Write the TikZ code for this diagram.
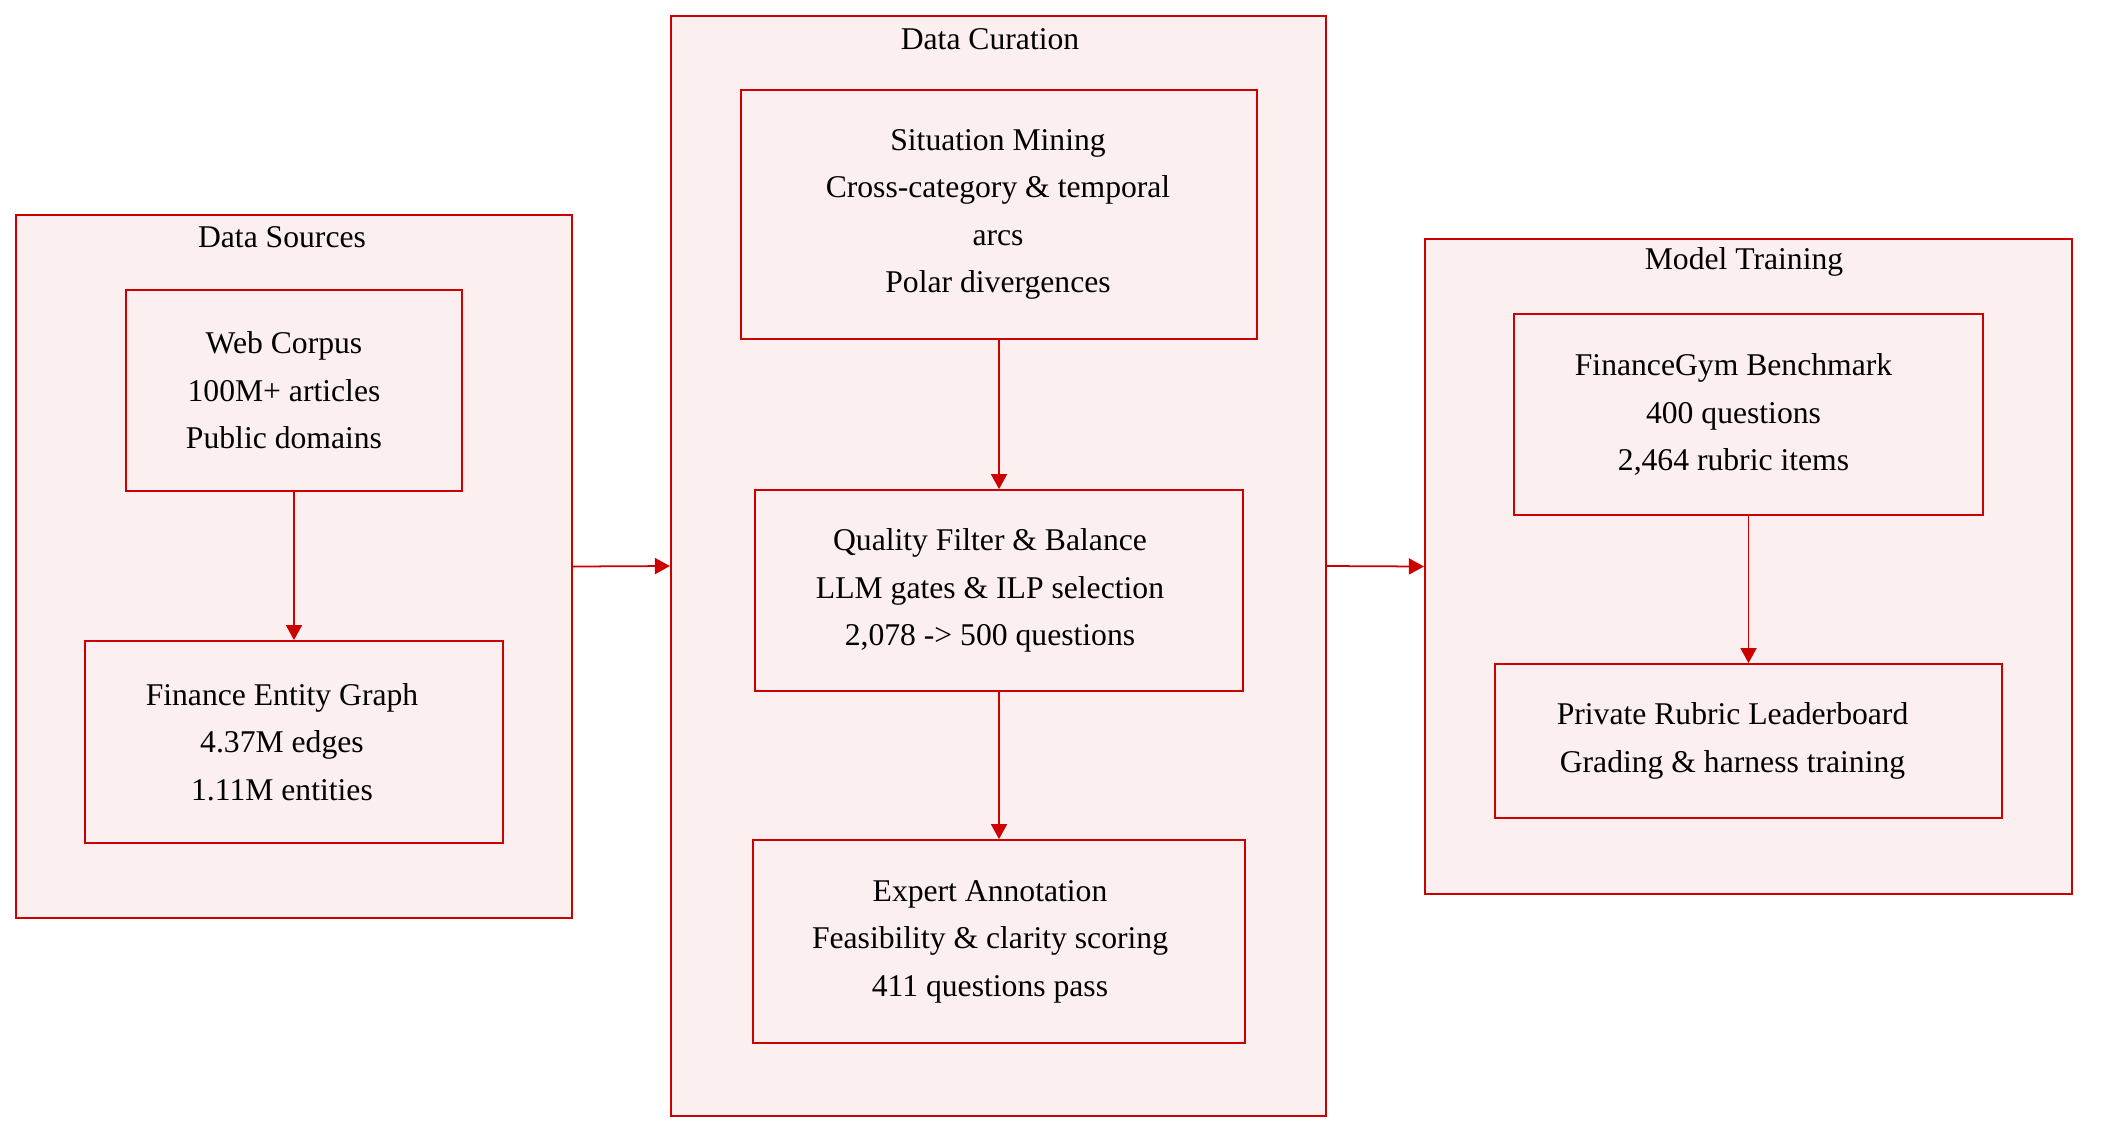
\documentclass[tikz,border=0pt]{standalone}
\usepackage{fontspec}
\setmainfont{Liberation Serif}
\usetikzlibrary{arrows.meta}
\definecolor{boxred}{RGB}{204,0,0}
\definecolor{boxpink}{RGB}{252,239,239}
\begin{document}
\begin{tikzpicture}[x=0.01cm, y=-0.01cm, >={Triangle[length=0.15cm,width=0.16cm]}]
\tikzstyle{every node}=[font=\fontsize{9}{13.5}\selectfont, align=center]
\tikzstyle{grp}=[draw=boxred, fill=boxpink, line width=0.5pt, rectangle, inner sep=0pt]
\tikzstyle{box}=[draw=boxred, fill=boxpink, line width=0.5pt, rectangle, inner sep=0pt]
\tikzstyle{link}=[->, draw=boxred, fill=boxred, line width=0.5pt]
\useasboundingbox (0,0) rectangle (2104,1142);
% groups
\node[grp, minimum width=5.56cm, minimum height=7.03cm](gsrc) at (294,566.5) {};
\node[grp, minimum width=6.55cm, minimum height=11cm](gcur) at (998.5,566) {};
\node[grp, minimum width=6.47cm, minimum height=6.55cm](gtrn) at (1748.5,566.5) {};
\node(tsrc) at (282,237) {Data Sources};
\node(tcur) at (990,39) {Data Curation};
\node(ttrn) at (1744,262) {Model Training};
% boxes
\node[box, minimum width=3.36cm, minimum height=2.01cm, label={[xshift=-0.1cm]center:{Web Corpus\\100M+ articles\\Public domains}}](src1) at (294,390.5) {};
\node[box, minimum width=4.18cm, minimum height=2.02cm, label={[xshift=-0.12cm]center:{Finance Entity Graph\\4.37M edges\\1.11M entities}}](src2) at (294,742) {};
\node[box, minimum width=5.16cm, minimum height=2.49cm, label={[xshift=-0.01cm]center:{Situation Mining\\Cross-category \& temporal\\arcs\\Polar divergences}}](cur1) at (999,214.5) {};
\node[box, minimum width=4.88cm, minimum height=2.01cm, label={[xshift=-0.09cm]center:{Quality Filter \& Balance\\LLM gates \& ILP selection\\2,078 -> 500 questions}}](cur2) at (999,590.5) {};
\node[box, minimum width=4.92cm, minimum height=2.03cm, label={[xshift=-0.09cm]center:{Expert Annotation\\Feasibility \& clarity scoring\\411 questions pass}}](cur3) at (999,941.5) {};
\node[box, minimum width=4.69cm, minimum height=2.01cm, label={[xshift=-0.15cm]center:{FinanceGym Benchmark\\400 questions\\2,464 rubric items}}](trn1) at (1748.5,414.5) {};
\node[box, minimum width=5.07cm, minimum height=1.54cm, label={[xshift=-0.16cm]center:{Private Rubric Leaderboard\\Grading \& harness training}}](trn2) at (1748.5,741) {};
% links
\draw[link] (src1.south) -- (src2.north);
\draw[link] (cur1.south) -- (cur2.north);
\draw[link] (cur2.south) -- (cur3.north);
\draw[link] (trn1.south) -- (trn2.north);
\draw[link] (gsrc.east) -- (gcur.west);
\draw[link] (gcur.east) -- (gtrn.west);
\end{tikzpicture}
\end{document}
